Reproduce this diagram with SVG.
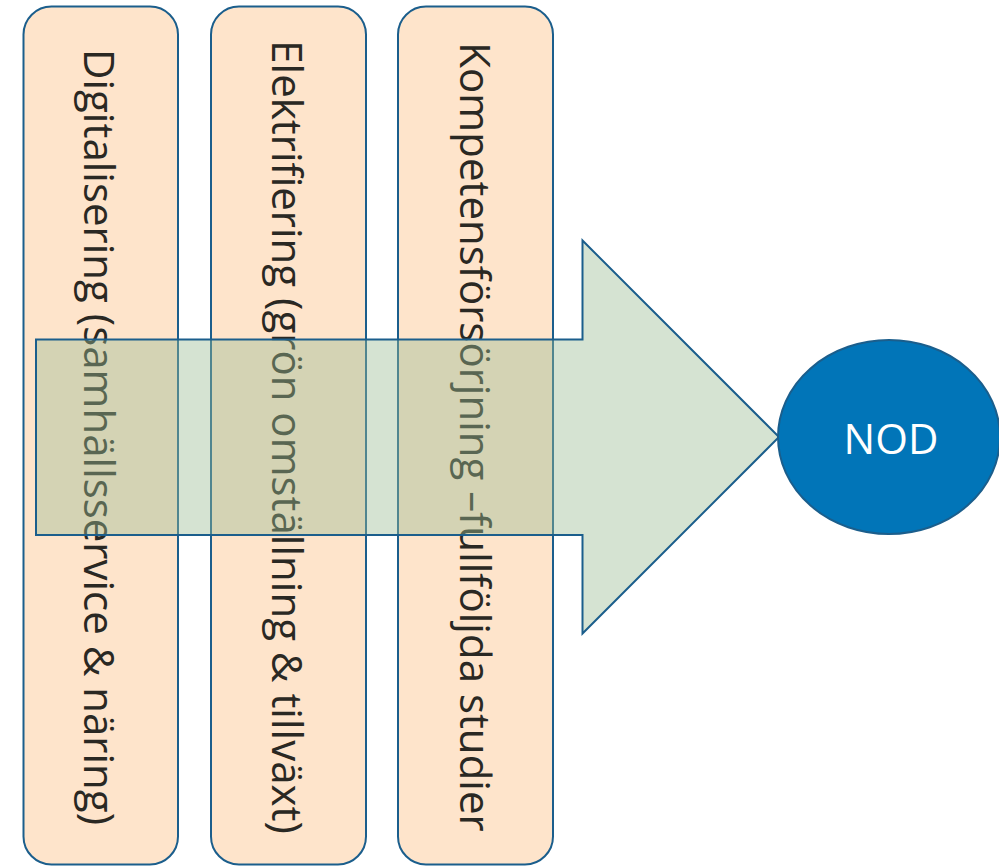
<svg xmlns="http://www.w3.org/2000/svg" width="999" height="866" viewBox="0 0 999 866">
<style>
.col{fill:#FEE4CB;stroke:#1B5E8C;stroke-width:2}
.lbl{font-family:"Open Sans","Liberation Sans",sans-serif;font-size:42px;fill:#2A2823;text-anchor:middle}
.arrow{fill:#9BBC94;fill-opacity:0.42;stroke:#1B5E8C;stroke-width:2;stroke-linejoin:miter}
.node{fill:#0175B8;stroke:#1B5E8C;stroke-width:2}
.nodetxt{font-family:"Open Sans","Liberation Sans",sans-serif;font-size:42px;fill:#FFFFFF;text-anchor:middle}
</style>
<rect width="999" height="866" fill="#FFFFFF"/>
<g id="col-digitalisering">
<rect class="col" x="23.5" y="6.5" width="154.5" height="858" rx="28" ry="28"/>
<text class="lbl" transform="translate(84,437) rotate(90)">Digitalisering (samhällsservice &amp; näring)</text>
</g>
<g id="col-elektrifiering">
<rect class="col" x="211" y="6.5" width="155" height="858" rx="28" ry="28"/>
<text class="lbl" transform="translate(272,437) rotate(90)">Elektrifiering (grön omställning &amp; tillväxt)</text>
</g>
<g id="col-kompetens">
<rect class="col" x="398" y="6.5" width="155" height="858" rx="28" ry="28"/>
<text class="lbl" transform="translate(460,437) rotate(90)">Kompetensförsörjning –fullföljda studier</text>
</g>
<g id="connectors">
<path class="arrow" d="M36,339.5 L582.5,339.5 L582.5,240.5 L779,437 L582.5,633.5 L582.5,535 L36,535 Z"/>
</g>
<g id="node-nod">
<ellipse class="node" cx="889" cy="437" rx="111" ry="97"/>
<text class="nodetxt" x="891" y="454">NOD</text>
</g>
</svg>
